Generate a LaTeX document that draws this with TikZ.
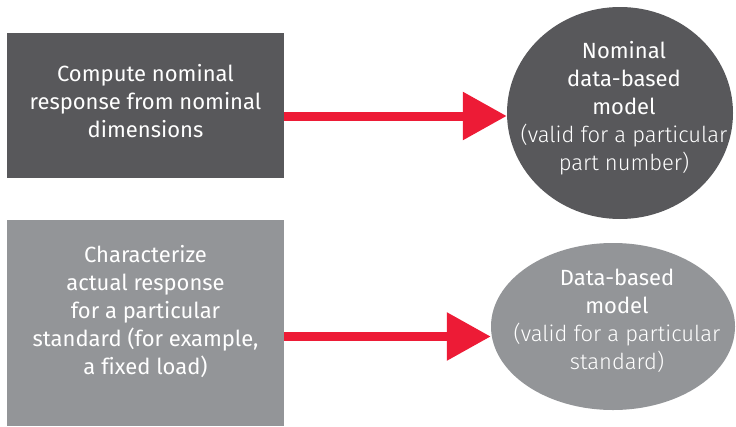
\documentclass[tikz,border=0pt]{standalone}
\usepackage{fontspec}
\setmainfont[Ligatures=NoCommon]{Fira Sans}
\newfontfamily\lightfont[Ligatures=NoCommon]{Fira Sans Light}
\usetikzlibrary{arrows.meta,shapes.geometric}

\definecolor{darkbox}{RGB}{88,88,91}
\definecolor{lightbox}{RGB}{147,149,152}
\definecolor{arrowred}{RGB}{237,27,54}

\tikzset{
  txt/.style={text=white,align=center,font=\fontsize{22}{28}\selectfont},
  stepbox/.style={rectangle,inner sep=0pt,minimum width=277pt},
  modelshape/.style={ellipse,inner sep=0pt},
  bigarrow/.style={arrowred,line width=9pt,-{Triangle[length=44pt,width=46pt]}}
}

\begin{document}
\begin{tikzpicture}[x=1pt,y=-1pt]
\useasboundingbox (0,0) rectangle (736,426);

\node[stepbox,fill=darkbox,minimum height=145pt] (nomstep) at (145.5,105.5) {};
\node[txt] (nomsteptext) at (145.5,101)
  {Compute nominal\\response from nominal\\dimensions};
\node[modelshape,fill=darkbox,minimum width=226pt,minimum height=212pt] (nommodel) at (620,113) {};
\node[txt] (nommodeltext) at (624,108)
  {Nominal\\data-based\\model\\{\lightfont(valid for a particular}\\{\lightfont part number)}};

\node[stepbox,fill=lightbox,minimum height=206pt] (charstep) at (145.5,323) {};
\node[txt] (charsteptext) at (145.5,312)
  {Characterize\\actual response\\for a particular\\standard (for example,\\a fixed load)};
\node[modelshape,fill=lightbox,minimum width=244pt,minimum height=167pt] (datamodel) at (613,326.5) {};
\node[txt] (datamodeltext) at (617,321)
  {Data-based\\model\\{\lightfont(valid for a particular}\\{\lightfont standard)}};

\draw[bigarrow] ([yshift=-3pt]nommodel.west -| nomstep.east) -- ([yshift=-3pt]nommodel.west);
\draw[bigarrow] ([yshift=-10pt]datamodel.west -| charstep.east) -- ([yshift=-10pt]datamodel.west);
\end{tikzpicture}
\end{document}
